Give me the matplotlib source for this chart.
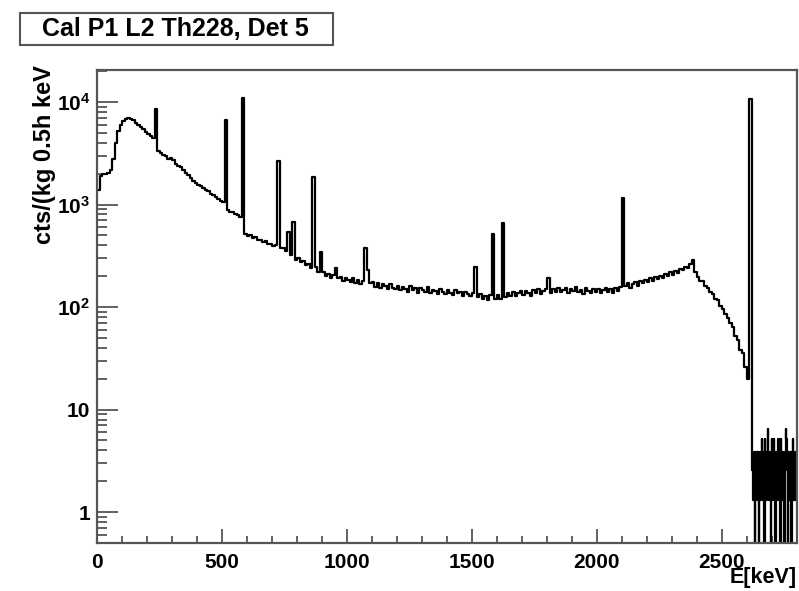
import numpy as np
import matplotlib
matplotlib.use("Agg")
import matplotlib.pyplot as plt
from matplotlib.ticker import FixedLocator, MultipleLocator, NullFormatter, FixedFormatter

plt.rcParams['font.family'] = ['Liberation Sans', 'DejaVu Sans']
plt.rcParams['font.weight'] = 'bold'
plt.rcParams['mathtext.fontset'] = 'custom'
plt.rcParams['mathtext.rm'] = 'Liberation Sans:bold'
plt.rcParams['mathtext.bf'] = 'Liberation Sans:bold'
plt.rcParams['mathtext.it'] = 'Liberation Sans:bold'

# ---------------- data ----------------
# 10 keV bins from 0 to 2620 keV (cts/(kg 0.5h keV))
counts_0_500 = [
    1400, 1900, 2000, 2000, 2050, 2150, 2800, 4000, 5200, 6000,
    6500, 6800, 6900, 6800, 6600, 6300, 6000, 5700, 5400, 5100,
    4900, 4700, 4500, 8600, 3300, 3150, 3050, 2950, 2800, 2850,
    2700, 2500, 2400, 2300, 2150, 2050, 1950, 1800, 1700, 1620,
    1550, 1500, 1450, 1400, 1350, 1280, 1230, 1180, 1130, 1080,
]
counts_500_1000 = [
    1050, 6600, 880, 850, 845, 810, 795, 750, 10900, 520,
    490, 500, 470, 478, 450, 455, 430, 442, 415, 412,
    395, 400, 2650, 375, 378, 350, 540, 320, 675, 290,
    300, 275, 282, 258, 265, 240, 1860, 245, 220, 345,
    222, 200, 212, 192, 205, 240, 190, 198, 180, 192,
]
counts_1000_1500 = [
    185, 176, 190, 170, 182, 168, 178, 375, 230, 172,
    175, 158, 170, 152, 166, 160, 150, 168, 155, 149,
    162, 146, 158, 150, 141, 160, 147, 155, 138, 152,
    146, 140, 156, 137, 148, 143, 135, 150, 141, 133,
    147, 138, 130, 146, 136, 141, 128, 140, 133, 127,
]
counts_1500_2000 = [
    138, 245, 124, 133, 120, 129, 118, 131, 515, 119,
    130, 121, 660, 126, 138, 129, 141, 127, 136, 143,
    131, 145, 137, 129, 146, 138, 150, 134, 143, 151,
    190, 137, 149, 141, 155, 139, 147, 152, 138, 150,
    144, 156, 140, 148, 135, 152, 143, 137, 149, 140,
]
counts_2000_2620 = [
    150, 137, 146, 155, 141, 149, 138, 152, 145, 158,
    1150, 160, 172, 155, 168, 176, 161, 180, 170, 185,
    174, 190, 181, 196, 186, 203, 192, 210, 199, 218,
    207, 226, 214, 236, 228, 246, 240, 262, 285, 222,
    195, 178, 180, 162, 155, 140, 135, 120, 116, 102,
    96, 86, 78, 70, 64, 52, 48, 38, 36, 26,
    20, 10700,
]
# 2 keV bins from 2620 to 2800 keV (above the 2614 keV line)
counts_tail = [
    3.9, 2.6, 3.9, 1.3, 3.9, 2.6, 0, 3.9, 2.6, 3.9,
    1.3, 3.9, 2.6, 3.9, 0, 2.6, 3.9, 1.3, 2.6, 3.9,
    5.2, 2.6, 3.9, 1.3, 3.9, 0, 5.2, 2.6, 3.9, 1.3,
    3.9, 2.6, 6.5, 3.9, 1.3, 2.6, 3.9, 2.6, 0, 3.9,
    5.2, 3.9, 1.3, 3.9, 5.2, 2.6, 3.9, 0, 2.6, 3.9,
    1.3, 3.9, 2.6, 5.2, 1.3, 3.9, 2.6, 0, 5.2, 2.6,
    3.9, 1.3, 3.9, 2.6, 3.9, 0, 2.6, 3.9, 6.5, 5.2,
    2.6, 3.9, 0, 3.9, 2.6, 1.3, 3.9, 2.6, 3.9, 0,
    3.9, 2.6, 5.2, 1.3, 3.9, 2.6, 3.9, 1.3, 3.9, 2.6,
]

edges_main = np.arange(0, 2620 + 1, 10)
edges_tail = np.arange(2622, 2800 + 1, 2)
edges = np.concatenate([edges_main, edges_tail])
values = np.array(counts_0_500 + counts_500_1000 + counts_1000_1500 +
                  counts_1500_2000 + counts_2000_2620 + counts_tail, dtype=float)

x_ticks = [0, 500, 1000, 1500, 2000, 2500]
y_ticks = [1, 10, 100, 1000, 10000]
y_tick_labels = ['1', '10', r'$10^{2}$', r'$10^{3}$', r'$10^{4}$']

title_text = 'Cal P1 L2 Th228, Det 5'
x_label = 'E[keV]'
y_label = 'cts/(kg 0.5h keV'

# ---------------- figure ----------------
W, H = 799, 591
fig = plt.figure(figsize=(W / 100, H / 100), dpi=100)
ax = fig.add_axes([97 / W, (H - 543) / H, (797 - 97) / W, (543 - 70) / H])

xs = np.append(edges[:-1], edges[-1])
ys = np.append(values, values[-1])
ax.step(xs, ys, where='post', color='black', lw=1.6)

ax.set_yscale('log')
ax.set_xlim(0, 2800)
ax.set_ylim(0.5, 20500)

frame_col = '#555555'
for s in ax.spines.values():
    s.set_color(frame_col)
    s.set_linewidth(1.6)

ax.xaxis.set_major_locator(FixedLocator(x_ticks))
ax.xaxis.set_minor_locator(MultipleLocator(100))
ax.yaxis.set_major_locator(FixedLocator(y_ticks))
ax.yaxis.set_major_formatter(FixedFormatter(y_tick_labels))
minor_y = [m * 10.0 ** d for d in range(-1, 5) for m in range(2, 10)]
ax.yaxis.set_minor_locator(FixedLocator(minor_y))
ax.yaxis.set_minor_formatter(NullFormatter())

ax.tick_params(axis='both', which='both', direction='in', top=False, right=False,
               color=frame_col, width=1.3)
ax.tick_params(axis='y', which='major', length=15, pad=5, labelsize=15)
ax.tick_params(axis='y', which='minor', length=7.5)
ax.tick_params(axis='x', which='major', length=10, pad=7, labelsize=15)
ax.tick_params(axis='x', which='minor', length=5)
for lab in ax.get_xticklabels() + ax.get_yticklabels():
    lab.set_fontweight('bold')

fig.text(45 / W, 1 - 155 / H, y_label, rotation=90, ha='center', va='center',
         fontsize=17, fontweight='bold')
fig.text(797 / W, 1 - 578 / H, x_label, ha='right', va='center',
         fontsize=15.5, fontweight='bold')

# title box
fig.text(175 / W, 1 - 29 / H, title_text, ha='center', va='center',
         fontsize=18, fontweight='bold')
fig.patches.append(plt.Rectangle((20 / W, 1 - 45 / H), 313 / W, 32 / H,
                                 transform=fig.transFigure, fill=False,
                                 edgecolor=frame_col, linewidth=1.5))

fig.savefig('out.png', dpi=100)
